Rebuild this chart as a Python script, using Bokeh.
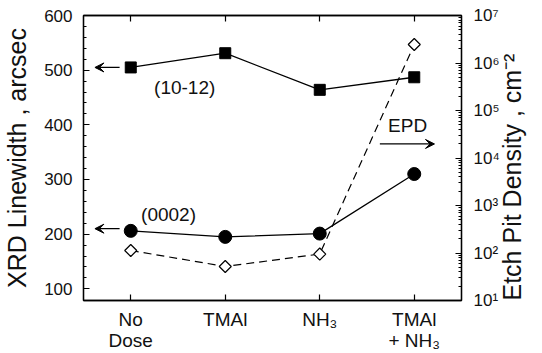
from math import pi
from bokeh.plotting import figure
from bokeh.models import (Range1d, LogScale, LogAxis, LinearAxis, FixedTicker, Label,
                          Arrow, VeeHead, ColumnDataSource)
from bokeh.embed import file_html
from bokeh.resources import INLINE

# ---------------- data ----------------
categories = ["No Dose", "TMAl", "NH3", "TMAl + NH3"]
cat_labels = ["No\nDose", "TMAl", "NH\u2083", "TMAl\n+ NH\u2083"]
xrd_1012 = [505, 531, 464, 487]          # arcsec, (10-12) reflection
xrd_0002 = [206, 195, 201, 310]          # arcsec, (0002) reflection
epd = [113, 52, 95, 2.45e6]              # etch pit density, cm^-2
left_ticks = [100, 200, 300, 400, 500, 600]
right_exponents = [1, 2, 3, 4, 5, 6, 7]
right_tick_labels = ["10\u00b9", "10\u00b2", "10\u00b3", "10\u2074", "10\u2075",
                     "10\u2076", "10\u2077"]
left_title = "XRD Linewidth , arcsec"
right_title = "Etch Pit Density , cm\u207b\u00b2"

FONT = "Liberation Sans"
INK = "#111111"

X0, X1 = -0.5, 3.5
y_lo, y_hi = 78.6, 600
E_LO, E_HI = 10, 10 ** 7

p = figure(width=542, height=353, x_range=Range1d(X0, X1), y_range=Range1d(y_lo, y_hi),
           output_backend="svg", toolbar_location=None,
           min_border_left=80, min_border_right=79, min_border_top=15, min_border_bottom=53)
p.background_fill_color = "white"
p.border_fill_color = "white"
p.outline_line_color = "black"
p.outline_line_width = 1.3
p.xgrid.visible = False
p.ygrid.visible = False

xs = list(range(len(categories)))

# bottom axis with category labels
xa = p.xaxis[0]
xa.ticker = FixedTicker(ticks=xs, minor_ticks=[])
xa.major_label_overrides = {i: lab for i, lab in zip(xs, cat_labels)}
xa.major_label_text_font = FONT
xa.major_label_text_font_size = "19px"
xa.major_label_text_color = INK
xa.major_label_text_line_height = 1.0
xa.major_label_standoff = 8
xa.major_tick_in = 6
xa.major_tick_out = 0
xa.minor_tick_in = 0
xa.minor_tick_out = 0
xa.axis_line_width = 1.3
xa.major_tick_line_width = 1.2

# top axis (ticks only)
ta = LinearAxis(ticker=FixedTicker(ticks=xs, minor_ticks=[]),
                major_label_overrides={i: "" for i in xs},
                major_tick_in=6, major_tick_out=0, major_label_standoff=0,
                major_label_text_font_size="1px",
                minor_tick_in=0, minor_tick_out=0, axis_line_width=1.3,
                major_tick_line_width=1.2)
p.add_layout(ta, "above")

# left axis
ya = p.yaxis[0]
ya.ticker = FixedTicker(ticks=left_ticks,
                        minor_ticks=[v for v in range(120, 600, 20) if v % 100])
ya.major_tick_in = 6
ya.major_tick_out = 0
ya.minor_tick_in = 3
ya.minor_tick_out = 0
ya.axis_line_width = 1.3
ya.major_tick_line_width = 1.2
ya.minor_tick_line_width = 1.0
ya.major_label_text_font = FONT
ya.major_label_text_font_size = "17px"
ya.major_label_text_color = INK
ya.major_label_standoff = 11
ya.axis_label = left_title
ya.axis_label_text_font = FONT
ya.axis_label_text_font_size = "25px"
ya.axis_label_text_font_style = "normal"
ya.axis_label_text_color = INK
ya.axis_label_standoff = 10

# right log axis
p.extra_y_ranges = {"epd": Range1d(E_LO, E_HI)}
p.extra_y_scales = {"epd": LogScale()}
ra = LogAxis(y_range_name="epd",
             ticker=FixedTicker(ticks=[10 ** e for e in right_exponents],
                                minor_ticks=[m * 10 ** e for e in right_exponents[:-1]
                                             for m in range(2, 10)]),
             major_label_overrides={10 ** e: lab for e, lab in
                                    zip(right_exponents, right_tick_labels)},
             major_label_text_font=FONT, major_label_text_font_size="17px",
             major_label_text_color=INK, major_label_standoff=12,
             major_tick_in=6, major_tick_out=0,
             minor_tick_in=3, minor_tick_out=0, axis_line_width=1.3,
             major_tick_line_width=1.2, minor_tick_line_width=1.0,
             axis_label=right_title, axis_label_text_font=FONT,
             axis_label_text_font_size="25px", axis_label_text_font_style="normal",
             axis_label_text_color=INK,
             axis_label_standoff=9, axis_label_orientation=pi / 2,
             axis_label_align="start")
p.add_layout(ra, "right")

# ---------------- series ----------------
src = ColumnDataSource(dict(x=xs, a=xrd_1012, b=xrd_0002, e=epd))
p.line("x", "e", source=src, y_range_name="epd", line_color="black",
       line_width=1.2, line_dash="8 5")
p.line("x", "a", source=src, line_color="black", line_width=1.3)
p.line("x", "b", source=src, line_color="black", line_width=1.3)
p.scatter("x", "a", source=src, marker="square", size=11,
          fill_color="black", line_color="black")
p.scatter("x", "b", source=src, marker="circle", size=13,
          fill_color="black", line_color="black")
p.scatter("x", "e", source=src, y_range_name="epd", marker="square", angle=pi / 4,
          size=8.5, fill_color="white", line_color="black", line_width=1.2)

# ---------------- annotations ----------------
for txt, ax, ay in (("(10-12)", 0.571, 469), ("(0002)", 0.40, 236), ("EPD", 2.93, 399)):
    p.add_layout(Label(x=ax, y=ay, text=txt, text_font=FONT, text_font_size="19px",
                       text_color=INK, text_align="center", text_baseline="middle"))

for x0, x1, yy in ((-0.118, -0.379, 505), (-0.118, -0.379, 210), (2.636, 3.214, 365)):
    p.add_layout(Arrow(end=VeeHead(size=9, fill_color="black", line_color="black",
                                   line_width=1),
                       x_start=x0, y_start=yy, x_end=x1, y_end=yy,
                       line_color="black", line_width=1.2))

open("out.html", "w").write(file_html(p, INLINE))
